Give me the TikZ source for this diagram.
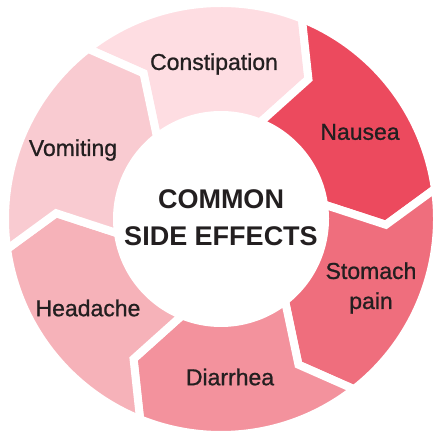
\documentclass[tikz,border=0pt]{standalone}
\usepackage{fontspec}
\setmainfont{Liberation Sans}
\newfontfamily\lblfont[FakeBold=0.9]{Liberation Sans}
\usetikzlibrary{positioning}

\definecolor{constcol}{HTML}{FEDDE2}
\definecolor{nauseacol}{HTML}{EC4A5E}
\definecolor{stomachcol}{HTML}{EF6E7D}
\definecolor{diarrcol}{HTML}{F3929D}
\definecolor{headcol}{HTML}{F6B2B9}
\definecolor{vomitcol}{HTML}{F9CBD1}
\definecolor{inkcol}{HTML}{231F20}

\begin{document}
\begin{tikzpicture}[x=1pt,y=1pt,
  seg/.style={draw=white,line width=8pt,line join=miter},
  lbl/.style={align=center,text=inkcol,font=\lblfont\fontsize{23}{30}\selectfont},
  hub/.style={align=center,text=inkcol,font=\fontsize{27}{37}\selectfont\bfseries}]
\useasboundingbox (0,0) rectangle (435,430);
\begin{scope}[shift={(221,211)}]
% ring of arrow segments, clockwise
\filldraw[seg,fill=constcol] (128:216) arc[start angle=128,end angle=68,radius=216] -- (58:165) -- (68:104) arc[start angle=68,end angle=128,radius=104] -- (118:165) -- cycle;
\filldraw[seg,fill=nauseacol] (68:216) arc[start angle=68,end angle=8,radius=216] -- (-2:165) -- (8:104) arc[start angle=8,end angle=68,radius=104] -- (58:165) -- cycle;
\filldraw[seg,fill=stomachcol] (8:216) arc[start angle=8,end angle=-52,radius=216] -- (-62:165) -- (-52:104) arc[start angle=-52,end angle=8,radius=104] -- (-2:165) -- cycle;
\filldraw[seg,fill=diarrcol] (-52:216) arc[start angle=-52,end angle=-112,radius=216] -- (-122:165) -- (-112:104) arc[start angle=-112,end angle=-52,radius=104] -- (-62:165) -- cycle;
\filldraw[seg,fill=headcol] (-112:216) arc[start angle=-112,end angle=-172,radius=216] -- (-182:165) -- (-172:104) arc[start angle=-172,end angle=-112,radius=104] -- (-122:165) -- cycle;
\filldraw[seg,fill=vomitcol] (188:216) arc[start angle=188,end angle=128,radius=216] -- (118:165) -- (128:104) arc[start angle=128,end angle=188,radius=104] -- (178:165) -- cycle;
% labels
\node[hub] (hub) at (0,1) {COMMON\\SIDE EFFECTS};
\node[lbl] (constipation) at (-7,155) {Constipation};
\node[lbl] (nausea) at (139,87) {Nausea};
\node[lbl] (stomach) at (150,-69) {Stomach\\pain};
\node[lbl] (diarrhea) at (9,-158) {Diarrhea};
\node[lbl] (headache) at (-133,-89) {Headache};
\node[lbl] (vomiting) at (-148,69) {Vomiting};
\end{scope}
\end{tikzpicture}
\end{document}
